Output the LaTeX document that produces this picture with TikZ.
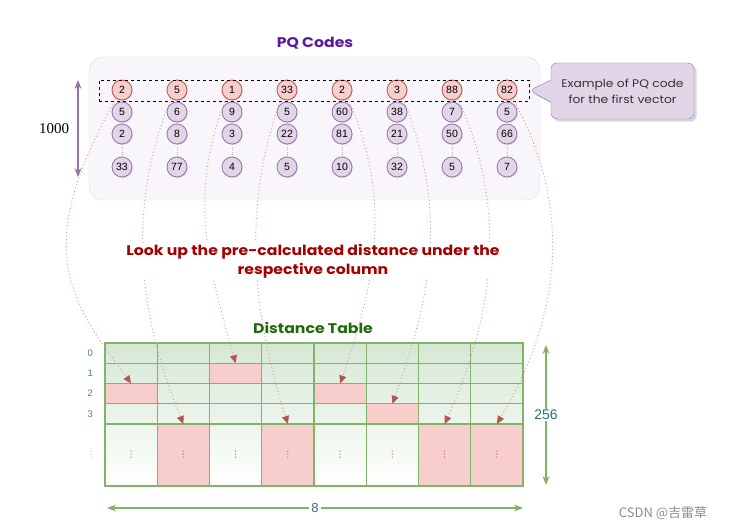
\documentclass[tikz,border=0pt]{standalone}
\usepackage{fontspec}
\setmainfont{Liberation Sans}
\newfontfamily\comic[FakeStretch=1.12]{Poppins}
\newfontfamily\serifnum{Liberation Serif}
\newfontfamily\symb{DejaVu Sans}
\newfontfamily\cjk{Noto Sans CJK SC}
\usetikzlibrary{arrows.meta,positioning,calc,shapes.callouts,shadows}
\definecolor{hitfill}{HTML}{F8CECC}
\definecolor{hitline}{HTML}{B85450}
\definecolor{codefill}{HTML}{E1D5E7}
\definecolor{codeline}{HTML}{9673A6}
\definecolor{boxfill}{HTML}{F8F6FA}
\definecolor{gridline}{HTML}{82B366}
\definecolor{gridfill}{HTML}{D5E8D4}
\definecolor{titlepurple}{HTML}{5B1A9E}
\definecolor{titlegreen}{HTML}{1E6B0A}
\definecolor{noteline}{HTML}{A50000}
\definecolor{dimtext}{HTML}{2F7070}
\definecolor{rowtext}{HTML}{3C8F6A}

\begin{document}
\begin{tikzpicture}[x=1pt,y=-1pt,>={Stealth[length=9pt,width=7pt]},
  code/.style={circle,draw=codeline,fill=codefill,line width=0.8pt,minimum size=20pt,inner sep=0pt,
    font=\fontsize{10.5}{10.5}\selectfont,drop shadow={opacity=0.25,shadow xshift=0.8pt,shadow yshift=-1pt}},
  hit/.style={code,draw=hitline,fill=hitfill},
  cell/.style={draw=gridline,line width=1.1pt,minimum width=52.25pt,inner sep=0pt,outer sep=0pt},
  lookup/.style={hitline!55,line width=1pt,dash pattern=on 1pt off 2.5pt,-{Triangle[length=8pt,width=7pt,color=hitline]}},
  title/.style={font=\comic\bfseries\fontsize{14}{19}\selectfont},
  rowlab/.style={text=rowtext,font=\fontsize{9.5}{9.5}\selectfont,inner sep=1pt},
  dim/.style={<->,line width=1.2pt}]
\useasboundingbox (0,0) rectangle (729,529);

\node (box) [draw=black!15,fill=boxfill,rounded corners=14pt,minimum width=451pt,minimum height=143pt] at (314.5,128.5) {};
\node (pqtitle) [title,text=titlepurple] at (315,43) {PQ Codes};

\foreach \c/\a/\b/\d/\e in {0/2/5/2/33,1/5/6/8/77,2/1/9/3/4,3/33/5/22/5,4/2/60/81/10,5/3/38/21/32,6/88/7/50/5,7/82/5/66/7} {
  \node (c-4-\c) [code] at ({122+55*\c},167) {\e};
  \node (c-3-\c) [code] at ({122+55*\c},134) {\d};
  \node (c-2-\c) [code] at ({122+55*\c},112) {\b};
  \node (c-1-\c) [hit] at ({122+55*\c},90) {\a};
  \draw[dotted,black!30] (c-3-\c) -- (c-4-\c);
}
\node (first) [draw,dashed,line width=0.8pt,minimum width=430pt,minimum height=21pt,inner sep=0pt] at (314,90.5) {};
\node (note) [rectangle callout,callout absolute pointer={(first.east)},callout pointer width=22pt,draw=codeline,fill=codefill,
  rounded corners=6pt,minimum width=143pt,minimum height=56pt,align=center,text=black!80,font=\comic\fontsize{11}{16}\selectfont,
  drop shadow={opacity=0.3}] at (622.5,91) {Example of PQ code\\for the first vector};

\coordinate (v-top) at (78,80);
\coordinate (v-bot) at (78,177);
\draw[dim,codeline] (v-top) -- node[left=5pt,text=black,font=\serifnum\fontsize{15}{15}\selectfont]{1000} (v-bot);

\node (dtitle) [title,text=titlegreen] at (313,328) {Distance Table};
\node (tbl) [inner sep=0pt,minimum width=418pt,minimum height=143pt,top color=gridfill,bottom color=white] at (314,414.5) {};
\foreach \c/\p in {0/2,1/4,2/1,3/4,4/2,5/3,6/4,7/4}
  \foreach \r/\y/\h in {0/353.125/20.25,1/373.375/20.25,2/393.625/20.25,3/413.875/20.25,4/455/62} {
    \ifnum\r=\p \def\cf{hitfill}\else\def\cf{none}\fi
    \node (t-\c-\r) [cell,fill=\cf,minimum height=\h pt] at ({131.125+52.25*\c},\y)
      {\ifnum\r=4 \color{hitline!70!codeline}\symb\fontsize{9}{9}\selectfont ⋮\fi};
  }
\foreach \r in {0,...,3}
  \node (r-\r) [rowlab,left=11pt of t-0-\r] {\r};
\node (r-4) [rowlab,text=black!30,left=8pt of t-0-4,font=\symb\fontsize{9}{9}\selectfont] {⋮};

\foreach \c/\r/\ax/\ay/\bx/\by/\s in {0/2/-86/152/-61/-83/235,1/4/-45/110/-45/-110/235,2/1/-40/100/-25/-90/235,
    3/4/-40/110/-35/-110/235,4/2/45/100/35/-100/305,5/3/45/110/40/-110/305,6/4/50/110/50/-110/305,7/4/60/110/65/-110/305}
  \draw[lookup] (c-1-\c.\s) .. controls +(\ax,\ay) and +(\bx,\by) .. (t-\c-\r.north);

\node (hint) [title,text=noteline,fill=white,align=center,inner sep=1pt] at (313,261)
  {Look up the pre-calculated distance under the\\respective column};

\coordinate (h-top) at (546,345);
\coordinate (h-bot) at (546,485);
\draw[dim,gridline] (h-top) -- node[fill=white,text=dimtext,inner sep=1pt,font=\fontsize{14}{14}\selectfont]{256} (h-bot);
\coordinate (w-left) at (107,508);
\coordinate (w-right) at (523,508);
\draw[dim,gridline] (w-left) -- node[fill=white,text=dimtext,inner sep=2pt,font=\fontsize{13}{13}\selectfont]{8} (w-right);

\node (mark) [text=black!45,font=\cjk\fontsize{13}{13}\selectfont] at (663,513) {CSDN @吉雷草};
\end{tikzpicture}
\end{document}
